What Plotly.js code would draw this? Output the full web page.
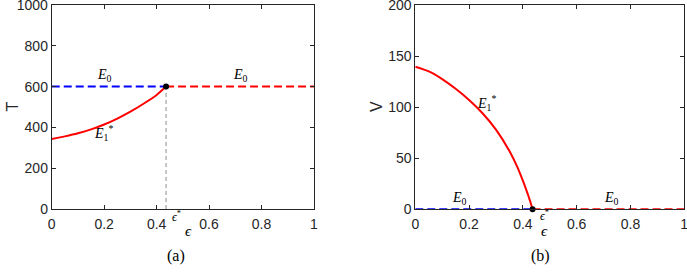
<!DOCTYPE html>
<html><head><meta charset="utf-8">
<script src="https://cdn.plot.ly/plotly-3.0.1.min.js"></script>
<style>html,body{margin:0;padding:0;background:#fff}#c{width:687px;height:276px}</style>
</head><body><div id="c"></div>
<script>
// ---- data ----
const epsStar = 0.436;
const epsT = [0, 0.05, 0.1, 0.15, 0.2, 0.25, 0.3, 0.35, 0.4, 0.436];
const T1 = [343, 356, 371, 390, 414, 443, 477, 516, 559, 600];
const epsV = [0, 0.05, 0.1, 0.15, 0.2, 0.25, 0.3, 0.35, 0.38, 0.4, 0.41, 0.42, 0.425, 0.43, 0.436];
const V1 = [139.5, 135, 127.5, 118, 107, 94, 78, 57, 41, 28, 21, 13.5, 9.5, 5.5, 0];
const T0 = 600;
const V0 = 0;
const epsStable = [0, epsStar];
const epsUnstable = [epsStar, 1];
const xTicks = [0, 0.2, 0.4, 0.6, 0.8, 1];
const xTickText = ['0', '0.2', '0.4', '0.6', '0.8', '1'];
const tTicks = [0, 200, 400, 600, 800, 1000];
const vTicks = [0, 50, 100, 150, 200];

const blue = '#0000ff', red = '#ff0000';
const dash = '8px,4px';
const traces = [
  {x: [epsStar, epsStar], y: [0, T0], xaxis: 'x', yaxis: 'y', mode: 'lines',
   line: {color: '#8c8c8c', width: 1, dash: '4px,3px'}},
  {x: epsStable, y: [T0, T0], xaxis: 'x', yaxis: 'y', mode: 'lines', line: {color: blue, width: 2, dash: dash}},
  {x: epsUnstable, y: [T0, T0], xaxis: 'x', yaxis: 'y', mode: 'lines', line: {color: red, width: 2, dash: dash}},
  {x: epsT, y: T1, xaxis: 'x', yaxis: 'y', mode: 'lines', line: {color: red, width: 2, shape: 'spline', smoothing: 0.8}},
  {x: [epsStar], y: [T0], xaxis: 'x', yaxis: 'y', mode: 'markers', marker: {color: '#000', size: 6}},

  {x: epsStable, y: [V0, V0], xaxis: 'x2', yaxis: 'y2', mode: 'lines', line: {color: blue, width: 2, dash: dash}},
  {x: epsUnstable, y: [V0, V0], xaxis: 'x2', yaxis: 'y2', mode: 'lines', line: {color: red, width: 2, dash: dash}},
  {x: epsV, y: V1, xaxis: 'x2', yaxis: 'y2', mode: 'lines', line: {color: red, width: 2, shape: 'spline', smoothing: 0.6}},
  {x: [epsStar], y: [V0], xaxis: 'x2', yaxis: 'y2', mode: 'markers', marker: {color: '#000', size: 6}, cliponaxis: false}
];

const axFont = {family: 'Liberation Sans, Arial, sans-serif', size: 14, color: '#262626'};
function xa(domain, anchor) {
  return {domain: domain, anchor: anchor, range: [0, 1], tickvals: xTicks, ticktext: xTickText,
    ticks: 'inside', ticklen: 4, tickcolor: '#262626', showline: true, linecolor: '#262626', linewidth: 1,
    mirror: 'ticks', showgrid: false, zeroline: false, tickfont: axFont, ticklabeloverflow: 'allow',
    ticklabelstandoff: 2};
}
function ya(domain, anchor, range, vals) {
  return {domain: domain, anchor: anchor, range: range, tickvals: vals,
    ticks: 'inside', ticklen: 4, tickcolor: '#262626', showline: true, linecolor: '#262626', linewidth: 1,
    mirror: 'ticks', showgrid: false, zeroline: false, tickfont: axFont, ticklabeloverflow: 'allow'};
}
const serif = {family: 'Liberation Serif, DejaVu Serif, serif', size: 14, color: '#000'};
const E0 = '<i>E</i><sub>0</sub>';
const E1 = '<i>E</i><sub>1</sub><sup>*</sup>';
const ann = (xref, yref, x, y, text, size) => ({xref, yref, x, y, text, showarrow: false,
  font: Object.assign({}, serif, size ? {size} : {})});
const layout = {
  width: 687, height: 276, margin: {l: 0, r: 0, t: 0, b: 0},
  paper_bgcolor: '#fff', plot_bgcolor: '#fff', showlegend: false,
  xaxis: xa([0.0753, 0.457], 'y'),
  yaxis: ya([0.2428, 0.9819], 'x', [0, 1000], tTicks),
  xaxis2: xa([0.6045, 0.996], 'y2'),
  yaxis2: ya([0.2417, 0.9819], 'x2', [0, 200], vTicks),
  annotations: [
    ann('x', 'y', 0.203, 655, E0),
    ann('x', 'y', 0.718, 655, E0),
    ann('x', 'y', 0.196, 372, E1),
    ann('x', 'paper', 0.475, 1 - 226 / 276, '<i>ϵ</i><sup>*</sup>', 12),
    ann('x2', 'y2', 0.265, 104, E1),
    ann('x2', 'y2', 0.166, 11, E0),
    ann('x2', 'y2', 0.73, 11, E0),
    ann('x2', 'paper', 0.48, 1 - 225 / 276, '<i>ϵ</i><sup>*</sup>', 12),
    ann('paper', 'paper', 183 / 687, 1 - 241 / 276, '<i>ϵ</i>', 15),
    ann('paper', 'paper', 550 / 687, 1 - 241 / 276, '<i>ϵ</i>', 15),
    ann('paper', 'paper', 165 / 687, 1 - 267 / 276, '(a)', 16),
    ann('paper', 'paper', 552 / 687, 1 - 267 / 276, '(b)', 16),
    {xref: 'paper', yref: 'paper', x: 2 / 687, y: 1 - 107 / 276, text: 'T', showarrow: false, textangle: -90,
     font: {family: 'Liberation Sans, Arial, sans-serif', size: 16, color: '#262626'}},
    {xref: 'paper', yref: 'paper', x: 377 / 687, y: 1 - 107 / 276, text: 'V', showarrow: false, textangle: -90,
     font: {family: 'Liberation Sans, Arial, sans-serif', size: 16, color: '#262626'}}
  ]
};
Plotly.newPlot('c', traces, layout, {staticPlot: true, displayModeBar: false});
</script></body></html>
